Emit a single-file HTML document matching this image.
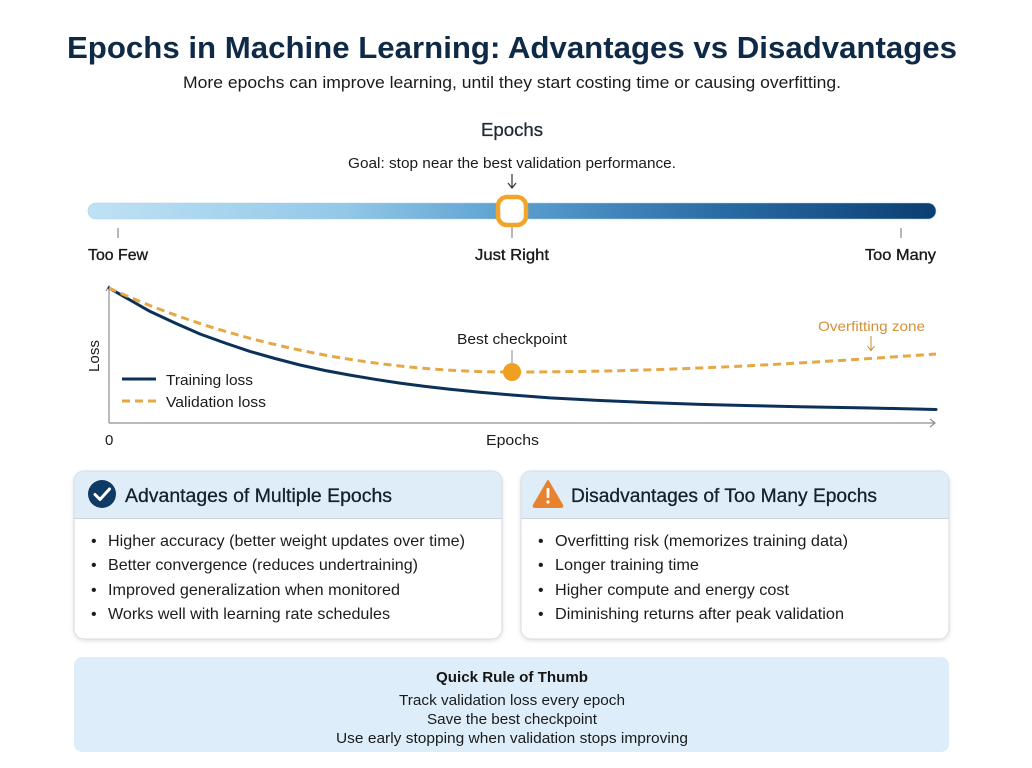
<!DOCTYPE html>
<html>
<head>
<meta charset="utf-8">
<style>
  html,body{margin:0;padding:0;background:#ffffff;}
  body{width:1032px;height:768px;overflow:hidden;}
  svg{display:block;font-family:"Liberation Sans",Arial,sans-serif;}
</style>
</head>
<body>
<svg width="1032" height="768" viewBox="0 0 1032 768" xmlns="http://www.w3.org/2000/svg">
  <defs>
    <linearGradient id="bar" x1="0" y1="0" x2="1" y2="0">
      <stop offset="0" stop-color="#bfe2f5"/>
      <stop offset="0.3" stop-color="#93c8e8"/>
      <stop offset="0.5" stop-color="#5b9fd0"/>
      <stop offset="0.75" stop-color="#2a6aa3"/>
      <stop offset="1" stop-color="#0b3e72"/>
    </linearGradient>
    <filter id="sh" x="-5%" y="-5%" width="110%" height="115%">
      <feDropShadow dx="0" dy="1.5" stdDeviation="2" flood-color="#000" flood-opacity="0.12"/>
    </filter>
  </defs>

  <!-- Title -->
  <text x="67" y="58" font-size="31" font-weight="bold" fill="#0e2a47" textLength="890" lengthAdjust="spacingAndGlyphs">Epochs in Machine Learning: Advantages vs Disadvantages</text>
  <text x="183" y="88" font-size="16.5" fill="#1b1b1b" textLength="658" lengthAdjust="spacingAndGlyphs">More epochs can improve learning, until they start costing time or causing overfitting.</text>

  <!-- Epochs slider -->
  <text x="481" y="136" font-size="18" fill="#1e2a36" stroke="#1e2a36" stroke-width="0.3" textLength="62" lengthAdjust="spacingAndGlyphs">Epochs</text>
  <text x="348" y="168" font-size="15" fill="#1b1b1b" textLength="328" lengthAdjust="spacingAndGlyphs">Goal: stop near the best validation performance.</text>
  <line x1="512" y1="174" x2="512" y2="187" stroke="#333" stroke-width="1.2"/>
  <polyline points="508,183 512,188 516,183" fill="none" stroke="#333" stroke-width="1.2"/>

  <rect x="88" y="203" width="848" height="16" rx="8" fill="url(#bar)" stroke="#a9cfe6" stroke-width="0.6"/>
  <line x1="118" y1="228" x2="118" y2="238" stroke="#888" stroke-width="1.2"/>
  <line x1="512" y1="226" x2="512" y2="238" stroke="#888" stroke-width="1.2"/>
  <line x1="901" y1="228" x2="901" y2="238" stroke="#888" stroke-width="1.2"/>
  <rect x="498" y="197" width="28" height="28" rx="9" fill="#ffffff" stroke="#f2a52b" stroke-width="4.5"/>

  <text x="88" y="260" font-size="16" fill="#1a1a1a" stroke="#1a1a1a" stroke-width="0.35" textLength="60" lengthAdjust="spacingAndGlyphs">Too Few</text>
  <text x="475" y="260" font-size="16" fill="#1a1a1a" stroke="#1a1a1a" stroke-width="0.35" textLength="74" lengthAdjust="spacingAndGlyphs">Just Right</text>
  <text x="865" y="260" font-size="16" fill="#1a1a1a" stroke="#1a1a1a" stroke-width="0.35" textLength="71" lengthAdjust="spacingAndGlyphs">Too Many</text>

  <!-- Chart axes -->
  <line x1="109" y1="286" x2="109" y2="423" stroke="#8a8f96" stroke-width="1.2"/>
  <polyline points="106,291 109,286 112,291" fill="none" stroke="#8a8f96" stroke-width="1.2"/>
  <line x1="109" y1="423" x2="935" y2="423" stroke="#8a8f96" stroke-width="1.2"/>
  <polyline points="930,419 935,423 930,427" fill="none" stroke="#8a8f96" stroke-width="1.2"/>

  <text transform="translate(99,372) rotate(-90)" font-size="15" fill="#1b1b1b" textLength="32" lengthAdjust="spacingAndGlyphs">Loss</text>
  <text x="105" y="445" font-size="15" fill="#1b1b1b">0</text>
  <text x="486" y="445" font-size="15" fill="#1b1b1b" textLength="53" lengthAdjust="spacingAndGlyphs">Epochs</text>

  <!-- Training loss -->
  <path d="M109,288 L130,300 L150,311.4 L175,323 L200,334 L225,343 L250,351.4 L275,358.5 L300,365 L325,370.5 L350,375.1 L375,379.3 L400,383.1 L425,386.4 L450,389.3 L480,392.3 L512,395 L550,397.9 L600,400.5 L650,402.6 L700,404.4 L750,405.6 L800,406.8 L870,408 L936,409.5" fill="none" stroke="#0c3159" stroke-width="3" stroke-linejoin="round" stroke-linecap="round"/>

  <!-- Validation loss -->
  <path d="M109,288 C200,330 340,372 512,372 C680,372 820,362 936,354" fill="none" stroke="#e6a845" stroke-width="3" stroke-dasharray="8,5"/>

  <!-- Best checkpoint -->
  <text x="457" y="344" font-size="15" fill="#1b1b1b" textLength="110" lengthAdjust="spacingAndGlyphs">Best checkpoint</text>
  <line x1="512" y1="350" x2="512" y2="364" stroke="#888" stroke-width="1"/>
  <circle cx="512" cy="372" r="9" fill="#f0a020"/>

  <!-- Overfitting zone -->
  <text x="818" y="331" font-size="14" fill="#d3903a" textLength="107" lengthAdjust="spacingAndGlyphs">Overfitting zone</text>
  <line x1="871" y1="336" x2="871" y2="350" stroke="#c98a3a" stroke-width="1"/>
  <polyline points="867.5,346 871,350.5 874.5,346" fill="none" stroke="#c98a3a" stroke-width="1"/>

  <!-- Legend -->
  <line x1="122" y1="379" x2="156" y2="379" stroke="#0c3159" stroke-width="3"/>
  <text x="166" y="385" font-size="15" fill="#1b1b1b" textLength="87" lengthAdjust="spacingAndGlyphs">Training loss</text>
  <line x1="122" y1="401" x2="156" y2="401" stroke="#e6a845" stroke-width="3" stroke-dasharray="8,5"/>
  <text x="166" y="407" font-size="15" fill="#1b1b1b" textLength="100" lengthAdjust="spacingAndGlyphs">Validation loss</text>

  <!-- Left card -->
  <g filter="url(#sh)">
    <rect x="74" y="471" width="428" height="168" rx="10" fill="#ffffff" stroke="#d6dce3" stroke-width="1"/>
  </g>
  <path d="M84,471.5 H492 A9.5,9.5 0 0 1 501.5,481 V518.5 H74.5 V481 A9.5,9.5 0 0 1 84,471.5 Z" fill="#deedf8"/>
  <line x1="74.5" y1="518.5" x2="501.5" y2="518.5" stroke="#c9d5df" stroke-width="1"/>
  <circle cx="102" cy="494" r="14" fill="#0f3a64"/>
  <polyline points="95,494.5 100,499.5 109.5,489" fill="none" stroke="#ffffff" stroke-width="3" stroke-linecap="round" stroke-linejoin="round"/>
  <text x="125" y="502" font-size="19" fill="#15202c" stroke="#15202c" stroke-width="0.3" textLength="267" lengthAdjust="spacingAndGlyphs">Advantages of Multiple Epochs</text>

  <g font-size="16" fill="#1c1c1c">
    <text x="91" y="546">•</text>
    <text x="108" y="546" textLength="357" lengthAdjust="spacingAndGlyphs">Higher accuracy (better weight updates over time)</text>
    <text x="91" y="570">•</text>
    <text x="108" y="570" textLength="310" lengthAdjust="spacingAndGlyphs">Better convergence (reduces undertraining)</text>
    <text x="91" y="595">•</text>
    <text x="108" y="595" textLength="292" lengthAdjust="spacingAndGlyphs">Improved generalization when monitored</text>
    <text x="91" y="619">•</text>
    <text x="108" y="619" textLength="282" lengthAdjust="spacingAndGlyphs">Works well with learning rate schedules</text>
  </g>

  <!-- Right card -->
  <g filter="url(#sh)">
    <rect x="521" y="471" width="428" height="168" rx="10" fill="#ffffff" stroke="#d6dce3" stroke-width="1"/>
  </g>
  <path d="M531,471.5 H939 A9.5,9.5 0 0 1 948.5,481 V518.5 H521.5 V481 A9.5,9.5 0 0 1 531,471.5 Z" fill="#deedf8"/>
  <line x1="521.5" y1="518.5" x2="948.5" y2="518.5" stroke="#c9d5df" stroke-width="1"/>
  <path d="M548,481 L562,505 Q563,507 561,507 L535,507 Q533,507 534,505 Z" fill="#e8822e" stroke="#e8822e" stroke-width="2" stroke-linejoin="round"/>
  <rect x="546.6" y="488" width="2.8" height="10" rx="1" fill="#ffffff"/>
  <circle cx="548" cy="502" r="1.6" fill="#ffffff"/>
  <text x="571" y="502" font-size="19" fill="#15202c" stroke="#15202c" stroke-width="0.3" textLength="306" lengthAdjust="spacingAndGlyphs">Disadvantages of Too Many Epochs</text>

  <g font-size="16" fill="#1c1c1c">
    <text x="538" y="546">•</text>
    <text x="555" y="546" textLength="293" lengthAdjust="spacingAndGlyphs">Overfitting risk (memorizes training data)</text>
    <text x="538" y="570">•</text>
    <text x="555" y="570" textLength="144" lengthAdjust="spacingAndGlyphs">Longer training time</text>
    <text x="538" y="595">•</text>
    <text x="555" y="595" textLength="234" lengthAdjust="spacingAndGlyphs">Higher compute and energy cost</text>
    <text x="538" y="619">•</text>
    <text x="555" y="619" textLength="289" lengthAdjust="spacingAndGlyphs">Diminishing returns after peak validation</text>
  </g>

  <!-- Bottom rule box -->
  <rect x="74" y="657" width="875" height="95" rx="8" fill="#ddeefa"/>
  <text x="436" y="682" font-size="15" font-weight="bold" fill="#151515" textLength="152" lengthAdjust="spacingAndGlyphs">Quick Rule of Thumb</text>
  <text x="399" y="705" font-size="15" fill="#1b1b1b" textLength="226" lengthAdjust="spacingAndGlyphs">Track validation loss every epoch</text>
  <text x="427" y="724" font-size="15" fill="#1b1b1b" textLength="170" lengthAdjust="spacingAndGlyphs">Save the best checkpoint</text>
  <text x="336" y="743" font-size="15" fill="#1b1b1b" textLength="352" lengthAdjust="spacingAndGlyphs">Use early stopping when validation stops improving</text>
</svg>
</body>
</html>
